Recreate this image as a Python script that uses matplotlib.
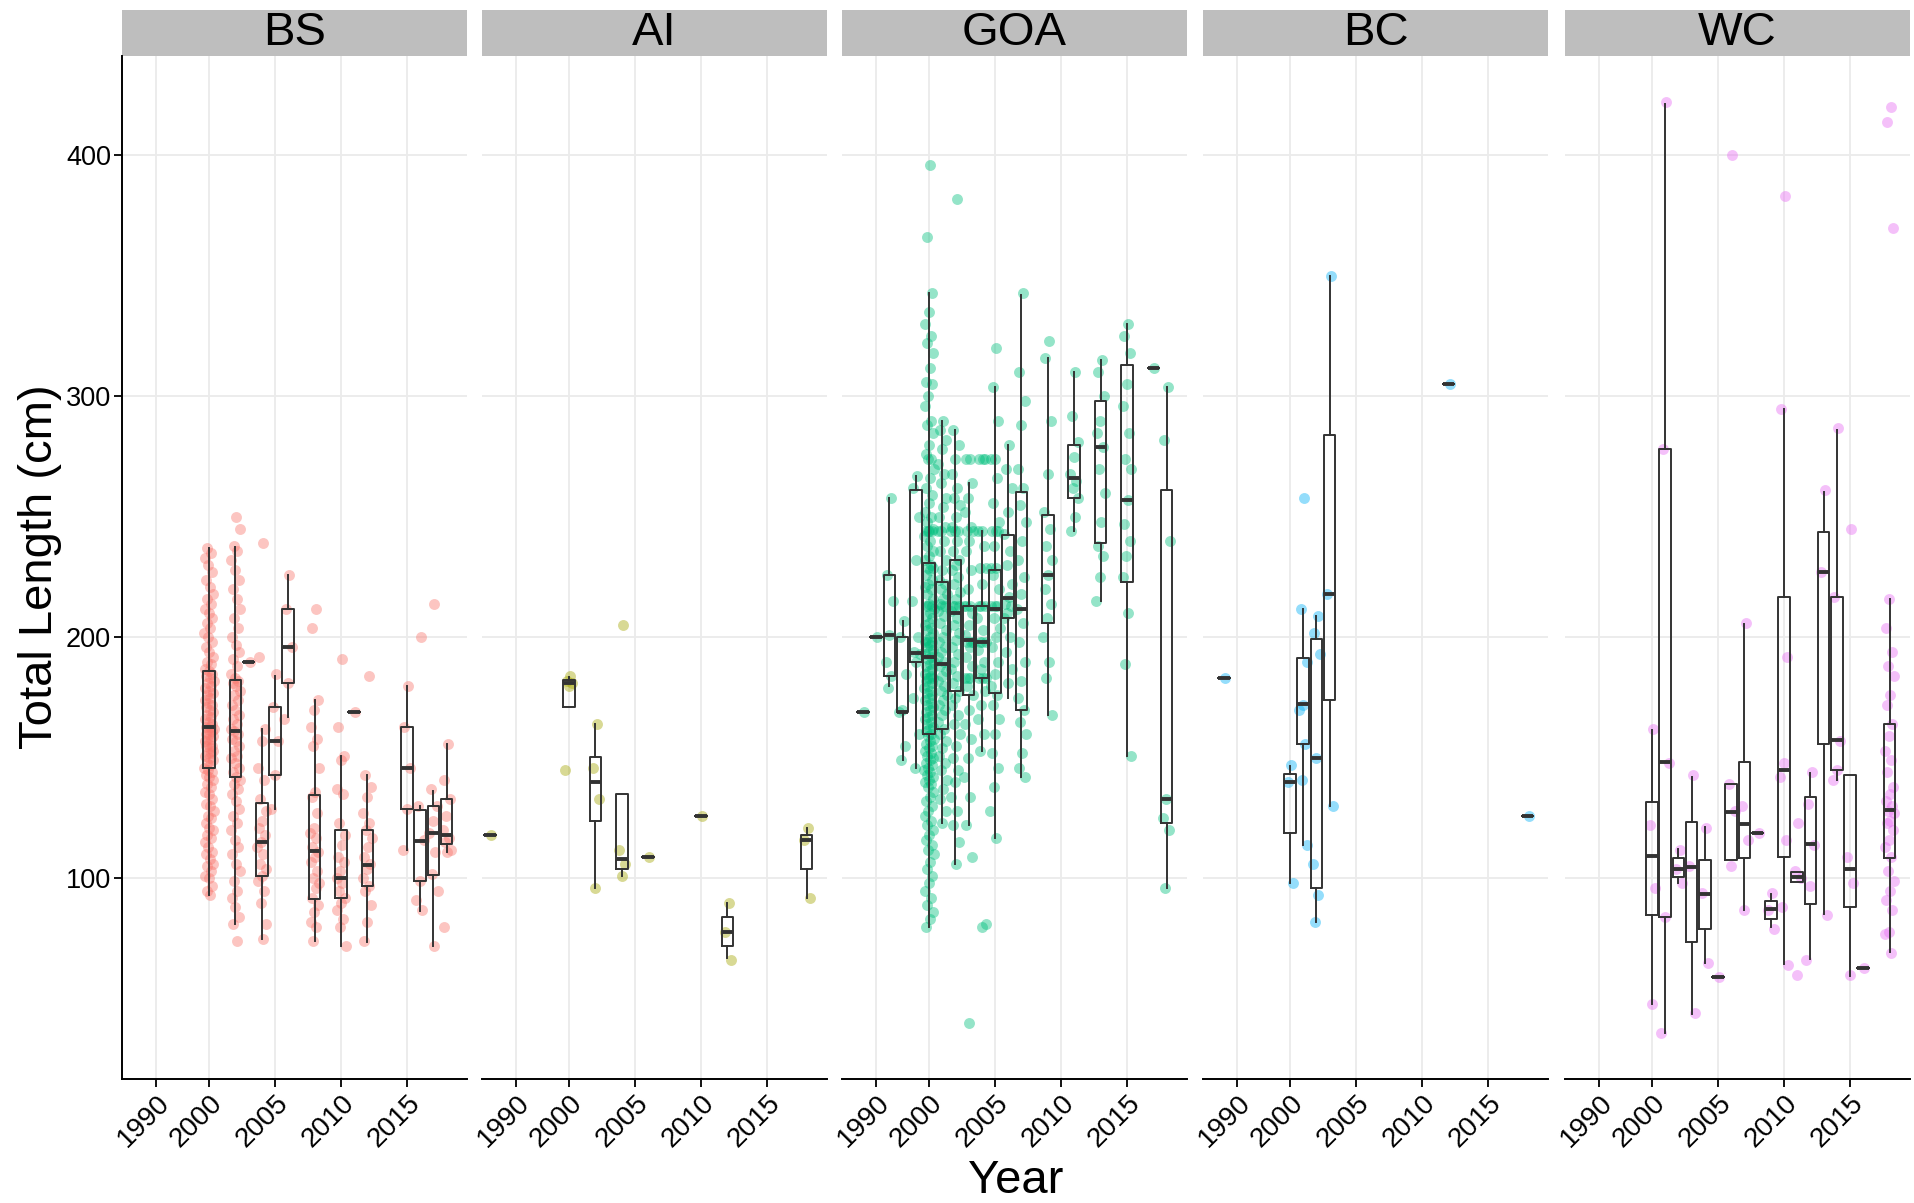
import numpy as np
import matplotlib
matplotlib.use("Agg")
import matplotlib.pyplot as plt
from matplotlib.patches import Rectangle

plt.rcParams['font.family'] = ['Liberation Sans', 'DejaVu Sans']

regions = ['BS', 'AI', 'GOA', 'BC', 'WC']
colors = ['#F8766D', '#A3A500', '#00BF7D', '#00B0F6', '#E76BF3']

tick_pos = [1996, 2000, 2005, 2010, 2015]
tick_labels = ['1990', '2000', '2005', '2010', '2015']

# --- BS ---
bs_years = [2000, 2002, 2003, 2004, 2005, 2006, 2008, 2010, 2011, 2012, 2015, 2016, 2017, 2018]
bs_lo = [93, 81, 190, 75, 129, 167, 74, 72, 169, 73.5, 112, 86.5, 72, 111]
bs_q1 = [146, 142, 190, 101, 143, 181, 91.5, 92, 169, 97, 129, 99, 101.5, 114.5]
bs_med = [163, 161, 190, 115, 157, 196, 111.5, 100, 169, 105.5, 146, 115.5, 119, 118]
bs_q3 = [186, 182.5, 190, 131.5, 171, 212, 134.5, 120, 169, 120, 163, 128.5, 130, 133]
bs_hi = [237, 237.5, 190, 162, 184, 226, 174, 151, 169, 143, 180, 130, 136.5, 156]
bs_pts = {
    2000: [93, 95, 97, 100, 101, 103, 105, 106, 108, 110, 111, 113, 115, 117, 118, 120, 121, 123, 125, 126,
           128, 130, 131, 133, 135, 136, 138, 139, 141, 142, 143, 144, 145, 146, 147, 148, 149, 150, 151, 152,
           152, 153, 154, 155, 155, 156, 157, 158, 158, 159, 160, 160, 161, 162, 162, 163, 163, 164, 165, 166,
           167, 168, 169, 170, 171, 172, 173, 174, 175, 176, 177, 178, 179, 180, 181, 182, 183, 184, 185, 186,
           187, 189, 190, 192, 194, 196, 198, 200, 202, 204, 206, 208, 210, 212, 214, 216, 218, 221, 224, 227,
           230, 233, 235, 237],
    2002: [74, 81, 84, 88, 92, 95, 99, 103, 106, 110, 113, 116, 120, 123, 126, 129, 132, 135, 137, 139,
           141, 142, 144, 146, 148, 150, 151, 153, 155, 157, 158, 160, 161, 162, 164, 166, 168, 170, 172, 174,
           176, 178, 180, 181, 182, 183, 185, 188, 191, 194, 197, 200, 204, 208, 212, 216, 220, 224, 228, 232,
           236, 238, 245, 250],
    2003: [190],
    2004: [239, 192, 162, 157, 146, 141, 133, 128, 124, 121, 118, 115, 113, 110, 106, 104, 101, 99, 95, 90, 81, 75],
    2005: [185, 171, 157, 143, 129],
    2006: [226, 212, 196, 181, 166],
    2008: [212, 204, 174, 170, 163, 158, 155, 146, 136, 134, 127, 121, 119, 117, 113, 111, 109, 107, 103, 100,
           98, 96, 92, 89, 86, 82, 80, 74],
    2010: [191, 163, 151, 149, 137, 135, 123, 118, 114, 109, 107, 103, 100, 98, 95, 92, 90, 87, 83, 80, 72],
    2011: [169],
    2012: [184, 143, 138, 134, 127, 123, 120, 117, 113, 109, 106, 104, 100, 97, 95, 89, 82, 74],
    2015: [180, 163, 146, 129, 112],
    2016: [200, 130, 116, 99, 91, 87],
    2017: [214, 137, 130, 124, 119, 111, 102, 95, 72],
    2018: [156, 141, 133, 126, 120, 117, 115, 112, 111, 80],
}

# --- AI ---
ai_years = [1994, 2000, 2002, 2004, 2006, 2010, 2012, 2018]
ai_lo = [118, 171, 96, 101, 109, 126, 67, 92]
ai_q1 = [118, 171, 124, 104, 109, 126, 72, 104]
ai_med = [118, 181, 140, 108, 109, 126, 78, 116]
ai_q3 = [118, 182.5, 150.5, 135, 109, 126, 84, 118]
ai_hi = [118, 183.5, 164, 135, 109, 126, 90, 121]
ai_pts = {
    1994: [118],
    2000: [184, 182, 181, 180, 145],
    2002: [164, 146, 133, 96],
    2004: [205, 112, 106, 101],
    2006: [109],
    2010: [126],
    2012: [90, 78, 66],
    2018: [121, 116, 92],
}

# --- GOA ---
goa_years = [1995, 1996, 1997, 1998, 1999, 2000, 2001, 2002, 2003, 2004, 2005, 2006, 2007, 2009, 2011, 2013, 2015, 2017, 2018]
goa_lo = [169, 200, 180, 149, 146, 80, 123, 106, 122, 153, 117, 175, 142, 168, 244, 215, 151, 312, 96]
goa_q1 = [169, 200, 184, 169, 190, 160, 162, 178, 176, 183, 177, 208, 170, 206, 258, 239, 223, 312, 123]
goa_med = [169, 200, 201, 169, 193.5, 192, 189, 210, 199, 198, 212, 216.5, 212, 226, 266, 279, 257, 312, 133]
goa_q3 = [169, 200, 226, 200, 261, 231, 223, 232, 213, 213, 228, 242.5, 260.5, 251, 280, 298, 313, 312, 261]
goa_hi = [169, 200, 258, 207, 267, 343, 290, 286, 264, 244, 304, 280, 342, 316, 310, 315, 330, 312, 304]
goa_pts = {
    1995: [169],
    1996: [200],
    1997: [258, 226, 215, 201, 190, 184, 179],
    1998: [207, 200, 185, 170, 169, 155, 149],
    1999: [267, 262, 250, 232, 215, 200, 194, 193, 190, 175, 160, 146],
    2000: [396, 366, 343, 335, 330, 325, 322, 318, 312, 306, 305, 300, 296, 290, 288, 285, 280, 276, 274, 274,
           270, 266, 262, 259, 256, 252, 250, 248, 245, 244, 244, 244, 244, 242, 240, 238, 236, 234, 232, 230,
           229, 229, 228, 226, 224, 222, 221, 220, 218, 216, 214, 213, 213, 213, 212, 210, 209, 208, 206, 205,
           204, 203, 202, 200, 199, 198, 198, 198, 197, 196, 195, 194, 193, 192, 191, 190, 189, 188, 187, 186,
           185, 184, 183, 183, 183, 182, 181, 180, 179, 178, 177, 176, 175, 174, 173, 172, 171, 170, 169, 168,
           167, 166, 165, 164, 163, 162, 161, 160, 159, 158, 157, 156, 155, 154, 153, 152, 151, 150, 149, 148,
           147, 146, 145, 144, 143, 142, 141, 140, 139, 138, 136, 134, 132, 130, 128, 126, 124, 122, 120, 118,
           116, 114, 112, 110, 107, 104, 101, 98, 95, 92, 89, 86, 83, 80],
    2001: [290, 286, 282, 278, 272, 268, 264, 258, 254, 250, 246, 244, 244, 240, 236, 232, 228, 224, 222, 220,
           218, 216, 214, 213, 213, 211, 209, 206, 203, 200, 198, 196, 194, 192, 190, 188, 186, 184, 182, 180,
           178, 176, 174, 172, 170, 168, 165, 162, 160, 157, 154, 151, 148, 145, 141, 137, 133, 128, 123],
    2002: [382, 286, 280, 274, 268, 262, 258, 255, 250, 246, 244, 244, 244, 240, 236, 232, 230, 228, 225, 222,
           219, 216, 213, 213, 213, 211, 208, 205, 202, 199, 196, 193, 190, 187, 184, 181, 178, 175, 172, 168,
           164, 160, 155, 150, 145, 140, 134, 128, 122, 115, 106],
    2003: [274, 274, 264, 258, 252, 246, 244, 244, 240, 236, 228, 220, 213, 213, 213, 210, 205, 201, 198, 198,
           198, 196, 192, 188, 183, 183, 183, 180, 176, 170, 164, 158, 150, 142, 134, 122, 109, 40],
    2004: [274, 274, 274, 244, 244, 238, 229, 229, 222, 213, 213, 213, 208, 203, 198, 198, 198, 195, 190, 187,
           183, 183, 183, 178, 172, 166, 160, 153, 81, 80],
    2005: [320, 304, 290, 274, 274, 266, 256, 248, 244, 244, 244, 238, 229, 229, 226, 220, 213, 213, 213, 208,
           204, 200, 196, 190, 185, 180, 176, 172, 166, 160, 152, 146, 138, 128, 117],
    2006: [280, 270, 262, 252, 243, 236, 230, 222, 217, 214, 213, 210, 208, 200, 194, 187, 181],
    2007: [343, 310, 298, 288, 270, 262, 255, 248, 240, 232, 225, 218, 212, 206, 198, 190, 182, 175, 170, 165,
           160, 152, 146, 142],
    2009: [323, 316, 290, 268, 252, 245, 238, 232, 226, 220, 214, 208, 200, 190, 183, 168],
    2011: [310, 292, 281, 275, 268, 265, 262, 258, 250, 244],
    2013: [315, 310, 300, 290, 285, 279, 270, 260, 248, 238, 234, 225, 215],
    2015: [330, 325, 318, 305, 296, 285, 274, 270, 257, 247, 240, 234, 225, 210, 189, 151],
    2017: [312],
    2018: [304, 282, 240, 133, 125, 120, 96],
}

# --- BC ---
bc_years = [1995, 2000, 2001, 2002, 2003, 2012, 2018]
bc_lo = [183, 98, 114, 82, 130, 305, 126]
bc_q1 = [183, 119, 156, 96, 174, 305, 126]
bc_med = [183, 140, 172.5, 150, 218, 305, 126]
bc_q3 = [183, 143.5, 191.5, 199.5, 284, 305, 126]
bc_hi = [183, 146.5, 212, 209, 350, 305, 126]
bc_pts = {
    1995: [183],
    2000: [147, 140, 98],
    2001: [258, 212, 190, 172, 170, 156, 141, 114],
    2002: [209, 202, 193, 150, 106, 93, 82],
    2003: [350, 218, 130],
    2012: [305],
    2018: [126],
}

# --- WC ---
wc_years = [2000, 2001, 2002, 2003, 2004, 2005, 2006, 2007, 2008, 2009, 2010, 2011, 2012, 2013, 2014, 2015, 2016, 2018]
wc_lo = [48, 36, 98, 43.6, 65, 59, 107.5, 87, 119, 79.7, 64.4, 98.6, 66.7, 85.3, 140.8, 59.7, 63, 69.4]
wc_q1 = [84.7, 84, 100.6, 73.6, 79, 59, 107.5, 108.3, 119, 83.3, 109, 98.6, 89.4, 156, 145, 88, 63, 108.3]
wc_med = [109.4, 148.3, 104, 104.7, 93.6, 59, 127.5, 122.8, 119, 87.2, 145, 100.6, 114.4, 227, 157.5, 104, 63, 128.3]
wc_q3 = [131.7, 278.3, 108.3, 123.6, 107.5, 59, 139, 148.3, 119, 90.6, 217, 102.8, 134, 243.6, 217, 143, 63, 164]
wc_hi = [161.7, 421.4, 112.2, 142.2, 121.4, 59, 139, 205.6, 119, 93.6, 295, 102.8, 143.6, 260.3, 286, 143, 63, 215.8]
wc_pts = {
    2000: [162, 122, 96, 48],
    2001: [422, 278, 148, 84, 36],
    2002: [112, 104, 98],
    2003: [143, 105, 44],
    2004: [121, 94, 65],
    2005: [59],
    2006: [400, 139, 128, 105],
    2007: [206, 130, 116, 87],
    2008: [119],
    2009: [94, 87, 79],
    2010: [383, 295, 192, 148, 142, 116, 88, 64],
    2011: [123, 103, 100, 60],
    2012: [144, 131, 114, 97, 66],
    2013: [261, 227, 85],
    2014: [287, 217, 157, 145, 141],
    2015: [245, 109, 98, 60],
    2016: [63],
    2018: [420, 414, 370, 216, 204, 194, 188, 184, 176, 172, 164, 159, 153, 149, 144, 138, 135, 132, 130, 128,
           127, 124, 123, 120, 116, 113, 109, 103, 99, 95, 91, 87, 78, 77, 69],
}

panels = {
    'BS': (bs_years, bs_lo, bs_q1, bs_med, bs_q3, bs_hi, bs_pts),
    'AI': (ai_years, ai_lo, ai_q1, ai_med, ai_q3, ai_hi, ai_pts),
    'GOA': (goa_years, goa_lo, goa_q1, goa_med, goa_q3, goa_hi, goa_pts),
    'BC': (bc_years, bc_lo, bc_q1, bc_med, bc_q3, bc_hi, bc_pts),
    'WC': (wc_years, wc_lo, wc_q1, wc_med, wc_q3, wc_hi, wc_pts),
}


def jitter(year, n):
    # fixed spread of points around the year (like geom_jitter, but repeatable)
    k = np.arange(1, n + 1)
    return year + ((k * 0.618034) % 1 - 0.5) * 0.72


W, H = 1915, 1203
fig = plt.figure(figsize=(W / 100, H / 100), dpi=100)

panel_left = [122, 482, 842, 1203, 1565]
panel_w = 345
top_px, bot_px = 55.7, 1079
strip_h = 46

line_col = '#333333'

for i, name in enumerate(regions):
    years, lo, q1, med, q3, hi, pts = panels[name]
    ax = fig.add_axes([panel_left[i] / W, 1 - bot_px / H, panel_w / W, (bot_px - top_px) / H])

    for yr, vals in pts.items():
        ax.scatter(jitter(yr, len(vals)), vals, s=62, color=colors[i], alpha=0.42,
                   linewidths=0, zorder=2)

    stats = [dict(med=m, q1=a, q3=b, whislo=l, whishi=h, fliers=[])
             for l, a, m, b, h in zip(lo, q1, med, q3, hi)]
    ax.bxp(stats, positions=years, widths=0.88, showcaps=False, showfliers=False,
           manage_ticks=False, zorder=3,
           boxprops=dict(color=line_col, linewidth=1.4),
           whiskerprops=dict(color=line_col, linewidth=1.4),
           medianprops=dict(color=line_col, linewidth=2.8))

    ax.set_xlim(1993.4, 2019.55)
    ax.set_ylim(16.8, 441.4)
    ax.set_xticks(tick_pos)
    ax.set_xticklabels(tick_labels)
    ax.set_yticks([100, 200, 300, 400])
    ax.grid(True, color='#EBEBEB', linewidth=1.3)
    ax.set_axisbelow(True)

    for s in ['top', 'right']:
        ax.spines[s].set_visible(False)
    ax.spines['bottom'].set_linewidth(1.4)
    ax.spines['bottom'].set_color('black')
    if i == 0:
        ax.spines['left'].set_linewidth(1.4)
        ax.spines['left'].set_color('black')
        ax.tick_params(axis='y', length=6, width=1.3, labelsize=19.5, pad=2)
    else:
        ax.spines['left'].set_visible(False)
        ax.tick_params(axis='y', length=0, labelleft=False)
    ax.tick_params(axis='x', length=6, width=1.3, labelsize=20, pad=2)
    plt.setp(ax.get_xticklabels(), rotation=45, ha='right', va='top', rotation_mode='anchor')

    # facet strip
    frac = strip_h / (bot_px - top_px)
    ax.add_patch(Rectangle((0, 1), 1, frac, transform=ax.transAxes, facecolor='#BEBEBE',
                           edgecolor='none', clip_on=False))
    ax.text(0.5, 1 + frac / 2, name, transform=ax.transAxes, ha='center', va='center',
            fontsize=34)

fig.text(40 / W, 1 - 567 / H, 'Total Length (cm)', rotation=90, ha='center', va='center', fontsize=34)
fig.text(1016 / W, 1 - 1181 / H, 'Year', ha='center', va='center', fontsize=34)

fig.savefig('out.png', dpi=100)
